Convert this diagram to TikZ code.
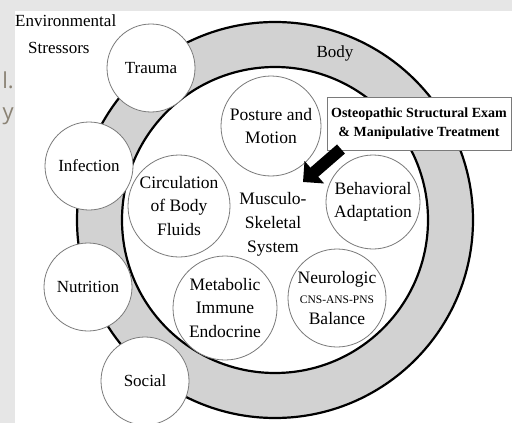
\documentclass[tikz,border=0pt]{standalone}
\usepackage{fontspec}
\setmainfont{Liberation Serif}
\newfontfamily\slidefont{Open Sans}
\usetikzlibrary{arrows.meta, positioning, shapes.geometric}

\definecolor{slidegray}{HTML}{E6E6E6}
\definecolor{ringgray}{HTML}{D2D2D2}
\definecolor{rimgray}{HTML}{7A7A7A}
\definecolor{fragtext}{HTML}{8A8274}

\begin{document}
\begin{tikzpicture}[x=1pt,y=-1pt]
    \tikzstyle{ringline}=[draw=black,line width=2.2pt]
    \tikzstyle{stressor}=[circle,draw=rimgray,fill=white,line width=0.8pt,
        minimum size=88pt,inner sep=0pt,align=center,font=\fontsize{17}{22}\selectfont]
    \tikzstyle{system}=[circle,draw=rimgray,fill=white,line width=0.8pt,
        minimum size=100pt,inner sep=0pt,align=center,font=\fontsize{17.5}{23.5}\selectfont]
    \tikzstyle{label}=[inner sep=0pt,font=\fontsize{17}{22}\selectfont]
    \tikzstyle{frag}=[anchor=base east,text=fragtext,inner sep=0pt,font=\slidefont\fontsize{22}{24}\selectfont]

    \clip (0,0) rectangle (512,423);

    % slide behind the picture
    \fill[slidegray] (0,0) rectangle (512,423);
    \node (fragl) [frag] at (14,88) {l.};
    \node (fragy) [frag] at (14,119) {y};
    \fill[white] (15,11) rectangle (512,423);

    % body ring
    \coordinate (c) at (275,220);
    \fill[ringgray,even odd rule] (c) circle (198) (c) circle (153);
    \draw[ringline] (c) circle (198);
    \draw[ringline] (c) circle (153);

    % environmental stressors
    \node (trauma) [stressor] at (151,68) {Trauma};
    \node (infection) [stressor] at (89,166) {Infection};
    \node (nutrition) [stressor] at (88,287) {Nutrition};
    \node (social) [stressor] at (145,381) {Social};

    % systems of the body
    \node (posture) [system] at (271,126) {Posture and\\Motion};
    \node (circulation) [system,minimum size=102pt] at (179,206) {Circulation\\of Body\\Fluids};
    \node (behavior) [system,minimum size=94pt] at (373,202) {Behavioral\\Adaptation};
    \node (metabolic) [system,minimum size=104pt] at (225,308) {Metabolic\\Immune\\Endocrine};
    \node (neuro) [system,minimum size=98pt] at (337,298) {Neurologic\\[-3pt]{\fontsize{11.5}{14}\selectfont CNS-ANS-PNS}\\[-3pt]Balance};
    \node (msk) [label,align=center,font=\fontsize{17.5}{24}\selectfont] at (273,224) {Musculo-\\Skeletal\\System};

    \node (env) [label,anchor=west] at (15,21) {Environmental};
    \node (stress) [label,anchor=west] at (28,48) {Stressors};
    \node (body) [label] at (335,53) {Body};

    % treatment box and arrow
    \node (exam) [draw=rimgray,fill=white,line width=0.8pt,minimum width=184pt,minimum height=53pt,
        inner sep=2pt,align=center,font=\bfseries\fontsize{14}{19}\selectfont] at (419,124)
        {Osteopathic Structural Exam\\\& Manipulative Treatment};
    \coordinate (tail) at (341,149);
    \coordinate (tip) at (303,182);
    \draw[line width=12pt,-{Triangle[length=15pt,width=29pt]}] (tail) -- (tip);
\end{tikzpicture}
\end{document}
